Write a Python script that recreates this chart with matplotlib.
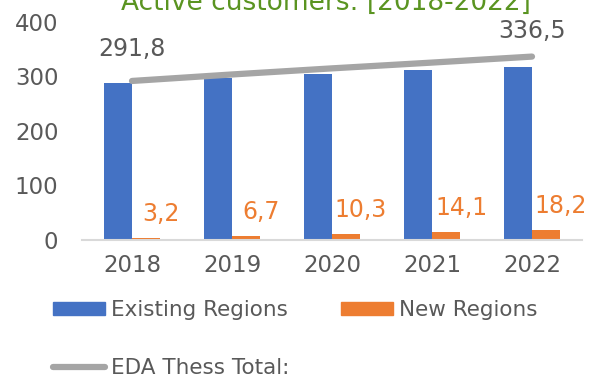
import matplotlib
matplotlib.use('Agg')
import matplotlib.pyplot as plt
from matplotlib.lines import Line2D
from matplotlib.patches import Patch
import numpy as np

# 数据
years = ["2018", "2019", "2020", "2021", "2022"]
existing_regions = [288.6, 297.0, 304.6, 311.4, 318.3]
new_regions = [3.2, 6.7, 10.3, 14.1, 18.2]
total_labels = {0: "291,8", 4: "336,5"}

BLUE = '#4472C4'
ORANGE = '#ED7D31'
GRAY = '#A5A5A5'
TEXT = '#595959'
GREEN = '#5A9421'

plt.rcParams['font.family'] = ['DejaVu Sans']
plt.rcParams['font.size'] = 16.5

fig = plt.figure(figsize=(6, 3.79), dpi=100)
ax = fig.add_axes([0.1367, 0.3668, 0.8333, 0.5752])

x = np.arange(len(years))
w = 0.28
totals = [e + n for e, n in zip(existing_regions, new_regions)]

ax.bar(x - w / 2, existing_regions, w, color=BLUE, label="Existing Regions")
ax.bar(x + w / 2, new_regions, w, color=ORANGE, label="New Regions")
ax.plot(x, totals, color=GRAY, lw=4.5, solid_capstyle='round', label="EDA Thess Total:")

# 数值标签
for i, v in enumerate(new_regions):
    ax.annotate(f"{v:.1f}".replace('.', ','), (x[i] + w / 2, v),
                xytext=(15, 24), textcoords='offset pixels',
                ha='center', va='center', color=ORANGE, fontsize=17)
for i, txt in total_labels.items():
    dy = 32 if i == 0 else 26
    ax.annotate(txt, (x[i], totals[i]), xytext=(0, dy), textcoords='offset pixels',
                ha='center', va='center', color=TEXT, fontsize=17)

ax.set_xlim(-0.5, len(years) - 0.5)
ax.set_ylim(0, 400)
ax.set_yticks([0, 100, 200, 300, 400])
ax.set_xticks(x)
ax.set_xticklabels(years)
ax.tick_params(axis='both', length=0, colors=TEXT, labelsize=16.5)
ax.tick_params(axis='y', pad=17)
ax.tick_params(axis='x', pad=10)
for s in ['top', 'right', 'left']:
    ax.spines[s].set_visible(False)
ax.spines['bottom'].set_color('#D9D9D9')
ax.spines['bottom'].set_linewidth(1.5)

fig.text(326 / 600, 1 - 10 / 379, "Active customers: [2018-2022]", ha='center',
         va='baseline', color=GREEN, fontsize=19)

# 图例: 左列两项, 右列一项
leg_kw = dict(loc='center left', frameon=False, handlelength=2.4, handleheight=0.55,
              handletextpad=0.28, labelspacing=1.75, borderpad=0, borderaxespad=0,
              fontsize=15.5, labelcolor=TEXT)
fig.legend([Patch(color=BLUE), Line2D([], [], color=GRAY, lw=4.5, solid_capstyle='round')],
           ["Existing Regions", "EDA Thess Total:"],
           bbox_to_anchor=(53 / 600, 1 - 339 / 379), **leg_kw)
fig.legend([Patch(color=ORANGE)], ["New Regions"],
           bbox_to_anchor=(341 / 600, 1 - 310 / 379), **leg_kw)

fig.savefig('out.png', dpi=100)
